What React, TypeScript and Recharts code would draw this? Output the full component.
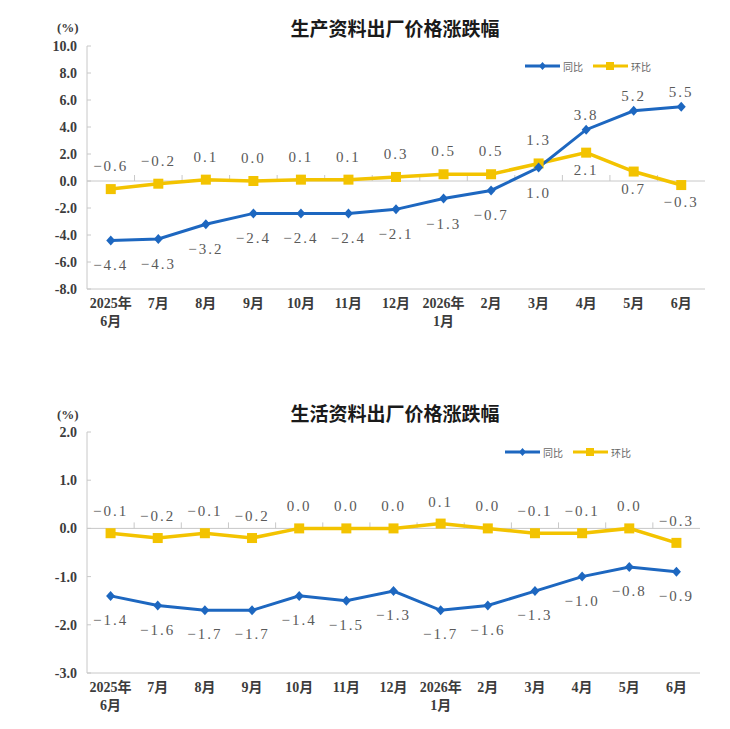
import { LineChart, Line, XAxis, YAxis, ReferenceLine, ReferenceArea, LabelList } from "recharts"

// months along the x axis (two-line labels where the year changes)
const months = ["2025年\n6月", "7月", "8月", "9月", "10月", "11月", "12月", "2026年\n1月", "2月", "3月", "4月", "5月", "6月"]

// 生产资料 (producer goods)
const producerYoY = [-4.4, -4.3, -3.2, -2.4, -2.4, -2.4, -2.1, -1.3, -0.7, 1.0, 3.8, 5.2, 5.5]
const producerMoM = [-0.6, -0.2, 0.1, 0.0, 0.1, 0.1, 0.3, 0.5, 0.5, 1.3, 2.1, 0.7, -0.3]
const producerTicks = [-8, -6, -4, -2, 0, 2, 4, 6, 8, 10]

// 生活资料 (consumer goods)
const consumerYoY = [-1.4, -1.6, -1.7, -1.7, -1.4, -1.5, -1.3, -1.7, -1.6, -1.3, -1.0, -0.8, -0.9]
const consumerMoM = [-0.1, -0.2, -0.1, -0.2, 0.0, 0.0, 0.0, 0.1, 0.0, -0.1, -0.1, 0.0, -0.3]
const consumerTicks = [-3, -2, -1, 0, 1, 2]

// where each value label sits relative to its point
const producerYoYSide = ["dn", "dn", "dn", "dn", "dn", "dn", "dn", "dn", "dn", "dn", "up", "up", "up"]
const producerMoMSide = ["up", "up", "up", "up", "up", "up", "up", "up", "up", "up", "dn", "dn", "dn"]
const consumerYoYSide = months.map(() => "dn")
const consumerMoMSide = months.map(() => "up")

const BLUE = "#1d67c0"
const YELLOW = "#f3c300"
const GRID = "#c8c8c8"
const BORDER = "#d9d9d9"
const AXIS_FONT = "'Liberation Serif', 'Noto Sans CJK SC', serif"

const buildRows = (yoy: number[], mom: number[]) =>
  months.map((m, i) => ({ month: m, yoy: yoy[i], mom: mom[i] }))

const fmt = (v: number) => (v < 0 ? "\u2212" + Math.abs(v).toFixed(1) : v.toFixed(1))

const Diamond = (p: any) => {
  const { cx, cy } = p
  if (cx == null || cy == null) return <g />
  return <path d={`M${cx},${cy - 5}L${cx + 4.5},${cy}L${cx},${cy + 5}L${cx - 4.5},${cy}Z`} fill={BLUE} />
}

const Square = (p: any) => {
  const { cx, cy } = p
  if (cx == null || cy == null) return <g />
  return <rect x={cx - 5} y={cy - 5} width={10} height={10} fill={YELLOW} />
}

const makeLabel = (sides: string[], above: number, below: number) => (p: any) => {
  const x = p.x ?? p.viewBox?.x
  const y = p.y ?? p.viewBox?.y
  const up = sides[p.index] === "up"
  return (
    <text
      x={x}
      y={up ? y - above : y + below}
      textAnchor="middle"
      dominantBaseline="central"
      fontFamily="'Liberation Serif', serif"
      fontSize={15}
      letterSpacing={2}
      fill="#5a5a5a"
    >
      {fmt(Number(p.value))}
    </text>
  )
}

const MonthTick = (p: any) => {
  const lines = String(p.payload.value).split("\n")
  return (
    <text x={p.x} y={p.y} textAnchor="middle" fontFamily={AXIS_FONT} fontWeight={700} fontSize={14} fill="#3c3c3c">
      {lines.map((t, i) => (
        <tspan key={i} x={p.x} dy={i === 0 ? "0.8em" : 18}>
          {t}
        </tspan>
      ))}
    </text>
  )
}

// zero line with small separators between the months
const ZeroLine = (p: any) => {
  const { x1, x2, y1 } = p
  const step = (x2 - x1) / months.length
  return (
    <g>
      <line x1={x1} x2={x2} y1={y1} y2={y1} stroke={GRID} strokeWidth={1} />
      {months.slice(1).map((_, i) => (
        <line key={i} x1={x1 + step * (i + 1)} x2={x1 + step * (i + 1)} y1={y1} y2={y1 - 6} stroke={GRID} strokeWidth={1} />
      ))}
    </g>
  )
}

const LegendBox = ({ left, top }: { left: number; top: number }) => (
  <svg style={{ position: "absolute", left, top }} width={140} height={14}>
    <line x1={0} x2={35} y1={7} y2={7} stroke={BLUE} strokeWidth={3} />
    <path d="M17.5,3L21,7L17.5,11L14,7Z" fill={BLUE} />
    <text x={38} y={7} dominantBaseline="central" fontFamily="'Noto Sans CJK SC', sans-serif" fontSize={10} fill="#666">
      同比
    </text>
    <line x1={68} x2={103} y1={7} y2={7} stroke={YELLOW} strokeWidth={3} />
    <rect x={81} y={3} width={8} height={8} fill={YELLOW} />
    <text x={106} y={7} dominantBaseline="central" fontFamily="'Noto Sans CJK SC', sans-serif" fontSize={10} fill="#666">
      环比
    </text>
  </svg>
)

type PanelProps = {
  top: number
  height: number
  margin: { top: number; right: number; bottom: number; left: number }
  title: string
  titleTop: number
  unitTop: number
  legendTop: number
  legendLeft: number
  yoy: number[]
  mom: number[]
  ticks: number[]
  yoySide: string[]
  momSide: string[]
  yoyOffsets: [number, number]
  momOffsets: [number, number]
}

const Panel = (props: PanelProps) => {
  const rows = buildRows(props.yoy, props.mom)
  const domain = [props.ticks[0], props.ticks[props.ticks.length - 1]]
  return (
    <div style={{ position: "absolute", left: 0, top: props.top, width: 730, height: props.height }}>
      <div
        style={{
          position: "absolute",
          left: 0,
          width: 790,
          top: props.titleTop - props.top - 13,
          height: 26,
          lineHeight: "26px",
          textAlign: "center",
          fontFamily: "'Noto Sans CJK SC', sans-serif",
          fontWeight: 700,
          fontSize: 19,
          color: "#1a1a1a",
        }}
      >
        {props.title}
      </div>
      <div
        style={{
          position: "absolute",
          left: 57,
          top: props.unitTop - props.top - 9,
          lineHeight: "18px",
          fontFamily: AXIS_FONT,
          fontWeight: 700,
          fontSize: 13,
          color: "#3c3c3c",
        }}
      >
        (%)
      </div>
      <LegendBox left={props.legendLeft} top={props.legendTop - props.top - 7} />
      <LineChart width={730} height={props.height} data={rows} margin={props.margin}>
        {/* plot frame */}
        <ReferenceArea fill="none" stroke={BORDER} strokeWidth={1} ifOverflow="visible" />
        <XAxis
          dataKey="month"
          scale="band"
          interval={0}
          height={40}
          axisLine={{ stroke: GRID }}
          tickLine={false}
          tick={<MonthTick />}
        />
        <YAxis
          type="number"
          domain={domain}
          ticks={props.ticks}
          interval={0}
          width={60}
          axisLine={{ stroke: GRID }}
          tickLine={{ stroke: GRID }}
          tickSize={-4}
          tickMargin={14}
          tickFormatter={(v: number) => v.toFixed(1)}
          tick={{ fontFamily: AXIS_FONT, fontWeight: 700, fontSize: 14, fill: "#3c3c3c" }}
        />
        <ReferenceLine y={0} shape={<ZeroLine />} />
        <Line
          dataKey="mom"
          stroke={YELLOW}
          strokeWidth={3.5}
          dot={<Square />}
          activeDot={false}
          isAnimationActive={false}
        >
          <LabelList dataKey="mom" content={makeLabel(props.momSide, props.momOffsets[0], props.momOffsets[1])} />
        </Line>
        <Line
          dataKey="yoy"
          stroke={BLUE}
          strokeWidth={3}
          dot={<Diamond />}
          activeDot={false}
          isAnimationActive={false}
        >
          <LabelList dataKey="yoy" content={makeLabel(props.yoySide, props.yoyOffsets[0], props.yoyOffsets[1])} />
        </Line>
      </LineChart>
    </div>
  )
}

export default function App() {
  return (
    <div style={{ position: "absolute", left: 0, top: 0, width: 730, height: 729, background: "#fff" }}>
      <Panel
        top={0}
        height={360}
        margin={{ top: 46, right: 25, bottom: 31, left: 27 }}
        title="生产资料出厂价格涨跌幅"
        titleTop={28}
        unitTop={28}
        legendTop={66}
        legendLeft={525}
        yoy={producerYoY}
        mom={producerMoM}
        ticks={producerTicks}
        yoySide={producerYoYSide}
        momSide={producerMoMSide}
        yoyOffsets={[15, 25]}
        momOffsets={[23, 17]}
      />
      <Panel
        top={385}
        height={345}
        margin={{ top: 47, right: 30, bottom: 17, left: 27 }}
        title="生活资料出厂价格涨跌幅"
        titleTop={413}
        unitTop={415}
        legendTop={452}
        legendLeft={505}
        yoy={consumerYoY}
        mom={consumerMoM}
        ticks={consumerTicks}
        yoySide={consumerYoYSide}
        momSide={consumerMoMSide}
        yoyOffsets={[15, 24]}
        momOffsets={[22, 17]}
      />
    </div>
  )
}
